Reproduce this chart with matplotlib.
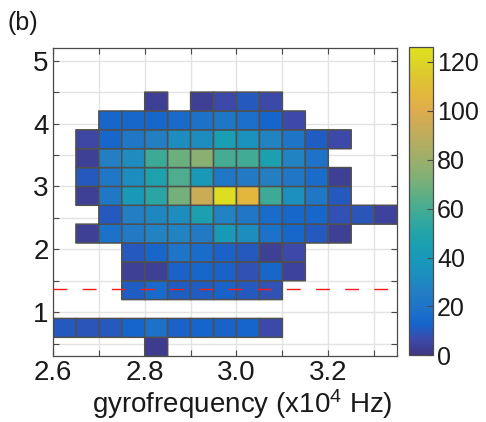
#!/usr/bin/env python3
"""2-D occurrence histogram: gyrofrequency vs. value, with parula colours."""

import matplotlib

matplotlib.use("Agg")
import matplotlib.pyplot as plt
import numpy as np
from matplotlib.colors import LinearSegmentedColormap

plt.rcParams["font.family"] = ["Liberation Sans", "DejaVu Sans"]
plt.rcParams["mathtext.fontset"] = "custom"
plt.rcParams["mathtext.rm"] = "Liberation Sans"
plt.rcParams["mathtext.default"] = "regular"

# bin edges (x in 1e4 Hz)
freq_edges = [2.60, 2.65, 2.70, 2.75, 2.80, 2.85, 2.90, 2.95, 3.00,
              3.05, 3.10, 3.15, 3.20, 3.25, 3.30, 3.35]
y_edges = [0.3, 0.6, 0.9, 1.2, 1.5, 1.8, 2.1, 2.4, 2.7, 3.0, 3.3, 3.6,
           3.9, 4.2, 4.5]

# counts per bin, one row per y bin from bottom to top (None = no data)
_ = None
counts = [
    [_, _, _, _, 2, _, _, _, _, _, _, _, _, _, _],
    [10, 9, 10, 13, 18, 12, 13, 12, 13, 6, _, _, _, _, _],
    [_, _, _, _, _, _, _, _, _, _, _, _, _, _, _],
    [_, _, _, 11, 15, 11, 11, 12, 10, 8, _, _, _, _, _],
    [_, _, _, 3, 3, 12, 14, 12, 8, 14, 4, _, _, _, _],
    [_, _, _, 10, 14, 20, 16, 12, 10, 3, 6, _, _, _, _],
    [_, 3, 18, 24, 28, 28, 24, 40, 32, 18, 14, 10, 3, _, _],
    [_, _, 10, 26, 30, 32, 46, 28, 22, 16, 14, 14, 8, 9, 4],
    [_, 3, 22, 40, 52, 70, 94, 124, 106, 58, 34, 22, 10, _, _],
    [_, 10, 22, 32, 47, 62, 40, 22, 24, 26, 22, 16, 3, _, _],
    [_, 3, 26, 32, 58, 68, 75, 60, 59, 46, 28, 19, _, _, _],
    [_, 5, 14, 22, 26, 32, 32, 44, 35, 28, 20, 11, 6, _, _],
    [_, _, 14, 14, 14, 15, 18, 21, 17, 13, 6, _, _, _, _],
    [_, _, _, _, 3, _, 3, 6, 10, 6, _, _, _, _, _],
]

threshold = 1.37

# MATLAB parula, sampled
parula_pts = [
    (0.2081, 0.1663, 0.5292),
    (0.1959, 0.2645, 0.7279),
    (0.0117, 0.3875, 0.8820),
    (0.0498, 0.4586, 0.8641),
    (0.0779, 0.5040, 0.8384),
    (0.0487, 0.5772, 0.8228),
    (0.0239, 0.6287, 0.8038),
    (0.0267, 0.6642, 0.7607),
    (0.0843, 0.6928, 0.7062),
    (0.1801, 0.7177, 0.6424),
    (0.3022, 0.7376, 0.5712),
    (0.4420, 0.7481, 0.5033),
    (0.5709, 0.7485, 0.4494),
    (0.6834, 0.7435, 0.4044),
    (0.7858, 0.7356, 0.3633),
    (0.8824, 0.7274, 0.3217),
    (0.9739, 0.7314, 0.2666),
    (0.9955, 0.7861, 0.1967),
    (0.9698, 0.8481, 0.1475),
    (0.9598, 0.9218, 0.0948),
    (0.9763, 0.9831, 0.0538),
]
# slightly muted, as printed
mix = 0.18
muted = [tuple((1 - mix) * c + mix * 0.42 for c in rgb) for rgb in parula_pts]
parula = LinearSegmentedColormap.from_list("parula", muted)

grid_col = "#e3e3e3"
axis_col = "#4a4a4a"

fig = plt.figure(figsize=(4.86, 4.22), dpi=100)
ax = fig.add_axes([0.109, 0.156, 0.708, 0.730])
cax = fig.add_axes([0.842, 0.158, 0.049, 0.730])

data = np.ma.masked_invalid(np.array(counts, dtype=float))
mesh = ax.pcolor(freq_edges, y_edges, data, cmap=parula, vmin=0, vmax=126,
                 edgecolors="#505050", linewidth=1.1, zorder=2)

ax.axhline(threshold, color="#ff1a1a", linewidth=1.0, dashes=(10, 11), zorder=3)

ax.set_xlim(2.6, 3.35)
ax.set_ylim(0.3, 5.2)
ax.set_xticks(np.arange(2.6, 3.351, 0.1))
ax.set_xticklabels(["2.6", "", "2.8", "", "3.0", "", "3.2", ""])
ax.set_yticks([0.5, 1, 1.5, 2, 2.5, 3, 3.5, 4, 4.5, 5])
ax.set_yticklabels(["", "1", "", "2", "", "3", "", "4", "", "5"])
ax.grid(True, color=grid_col, linewidth=1.0, zorder=0)
ax.set_axisbelow(True)
ax.tick_params(direction="in", length=4, width=0.8, color=axis_col,
               top=True, right=True, labelsize=20, pad=3, labelcolor="#1a1a1a")
for s in ax.spines.values():
    s.set_color(axis_col)
    s.set_linewidth(0.9)

ax.set_xlabel("gyrofrequency (x10$^{4}$ Hz)", fontsize=20, color="#1a1a1a")
ax.xaxis.set_label_coords(0.55, -0.10)

cb = fig.colorbar(mesh, cax=cax, ticks=[0, 20, 40, 60, 80, 100, 120])
cb.ax.tick_params(direction="in", length=4, width=0.8, color=axis_col,
                  labelsize=18, pad=3, labelcolor="#1a1a1a")
cb.outline.set_edgecolor(axis_col)
cb.outline.set_linewidth(0.9)

fig.text(0.016, 0.93, "(b)", fontsize=18, color="#1a1a1a")

fig.savefig("out.png", dpi=100)
